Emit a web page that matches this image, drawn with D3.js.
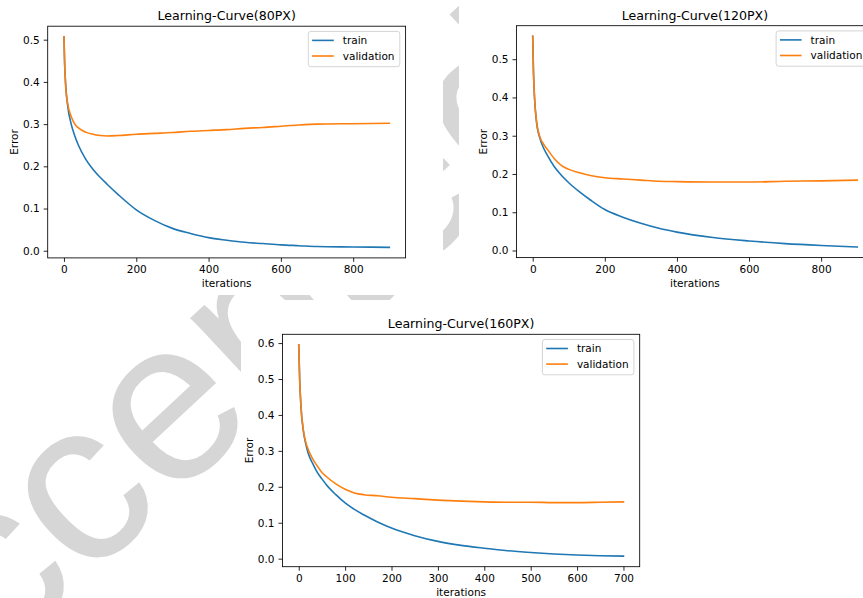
<!DOCTYPE html>
<html>
<head>
<meta charset="utf-8">
<script src="https://cdn.jsdelivr.net/npm/d3@7"></script>
<style>
  html, body { margin: 0; padding: 0; background: #fff; }
  svg { display: block; }
  text { font-family: "DejaVu Sans", sans-serif; }
</style>
</head>
<body>
<div id="chart"></div>
<script>
// ---------------- data ----------------
const seriesNames = ["train", "validation"];
const titles = ["Learning-Curve(80PX)", "Learning-Curve(120PX)", "Learning-Curve(160PX)"];

const iters80 = [0, 2, 5, 10, 20, 30, 40, 60, 80, 100, 120, 150, 200, 250, 300, 350, 400, 450, 500, 550, 600, 650, 700, 800, 900];
const train80 = [0.507, 0.44, 0.39, 0.345, 0.30, 0.272, 0.25, 0.217, 0.193, 0.174, 0.157, 0.133, 0.097, 0.072, 0.053, 0.041, 0.031, 0.025, 0.020, 0.017, 0.014, 0.012, 0.010, 0.009, 0.008];
const val80   = [0.507, 0.44, 0.385, 0.35, 0.318, 0.300, 0.291, 0.281, 0.276, 0.273, 0.272, 0.273, 0.276, 0.278, 0.280, 0.283, 0.285, 0.287, 0.290, 0.292, 0.295, 0.298, 0.300, 0.301, 0.302];

const iters120 = [0, 2, 5, 10, 20, 30, 40, 60, 80, 100, 130, 160, 200, 250, 300, 350, 400, 500, 600, 700, 800, 900];
const train120 = [0.56, 0.47, 0.40, 0.34, 0.293, 0.268, 0.25, 0.219, 0.196, 0.177, 0.153, 0.132, 0.107, 0.087, 0.071, 0.058, 0.048, 0.034, 0.025, 0.018, 0.013, 0.009];
const val120   = [0.56, 0.47, 0.40, 0.342, 0.297, 0.278, 0.265, 0.24, 0.222, 0.212, 0.203, 0.196, 0.19, 0.187, 0.184, 0.181, 0.180, 0.179, 0.179, 0.181, 0.182, 0.184];

const iters160 = [0, 2, 5, 10, 15, 20, 30, 40, 50, 60, 80, 100, 120, 140, 170, 200, 250, 300, 350, 400, 450, 500, 550, 600, 650, 700];
const train160 = [0.595, 0.50, 0.42, 0.355, 0.32, 0.295, 0.265, 0.24, 0.222, 0.205, 0.178, 0.155, 0.137, 0.122, 0.102, 0.085, 0.064, 0.048, 0.037, 0.029, 0.022, 0.017, 0.013, 0.010, 0.008, 0.007];
const val160   = [0.595, 0.50, 0.42, 0.357, 0.325, 0.305, 0.278, 0.258, 0.24, 0.228, 0.208, 0.193, 0.183, 0.178, 0.175, 0.171, 0.167, 0.163, 0.160, 0.158, 0.157, 0.157, 0.156, 0.156, 0.157, 0.158];

const xTicks900 = [0, 200, 400, 600, 800];
const xTicks700 = [0, 100, 200, 300, 400, 500, 600, 700];
const yTicks05 = [0, 0.1, 0.2, 0.3, 0.4, 0.5];
const yTicks06 = [0, 0.1, 0.2, 0.3, 0.4, 0.5, 0.6];
const xLabel = "iterations";
const yLabel = "Error";
const watermark = "Accepted";

// ---------------- layout ----------------
const W = 863, H = 598;
const colors = ["#1f77b4", "#ff7f0e"];

const svg = d3.select("#chart").append("svg")
  .attr("width", W).attr("height", H)
  .attr("viewBox", `0 0 ${W} ${H}`);

// watermark behind the figure images
svg.append("text")
  .attr("transform", "translate(-112,766) rotate(-43)")
  .style("font-family", "'Liberation Sans', Arial, sans-serif")
  .attr("font-size", 230)
  .attr("fill", "#d6d6d6")
  .text(watermark);

// opaque figure backgrounds
const panelBg = [
  {x: 0, y: 0, w: 443, h: 295},
  {x: 459, y: 0, w: 404, h: 295},
  {x: 241, y: 300, w: 412, h: 298}
];
panelBg.forEach(b => svg.append("rect").attr("x", b.x).attr("y", b.y)
  .attr("width", b.w).attr("height", b.h).attr("fill", "#fff"));

const panels = [
  {title: titles[0], left: 47.7, right: 405.6, top: 26.2, bottom: 257.9,
   xDomain: [-45, 945], xTicks: xTicks900, yTicks: yTicks05,
   iters: iters80, series: [train80, val80]},
  {title: titles[1], left: 516.5, right: 873.4, top: 25.7, bottom: 257.6,
   xDomain: [-45, 945], xTicks: xTicks900, yTicks: yTicks05,
   iters: iters120, series: [train120, val120]},
  {title: titles[2], left: 282.5, right: 639.7, top: 334.3, bottom: 566.7,
   xDomain: [-35, 735], xTicks: xTicks700, yTicks: yTicks06,
   iters: iters160, series: [train160, val160]}
];

const FS = 10.5;

panels.forEach(p => {
  const g = svg.append("g");
  const x = d3.scaleLinear().domain(p.xDomain).range([p.left, p.right]);
  const all = p.series.flat();
  const [mn, mx] = d3.extent(all);
  const pad = (mx - mn) * 0.05;
  const y = d3.scaleLinear().domain([mn - pad, mx + pad]).range([p.bottom, p.top]);

  // lines
  const line = d3.line()
    .x((d, i) => x(p.iters[i]))
    .y(d => y(d))
    .curve(d3.curveMonotoneX);
  p.series.forEach((s, k) => {
    g.append("path").datum(s)
      .attr("fill", "none")
      .attr("stroke", colors[k])
      .attr("stroke-width", 1.6)
      .attr("stroke-linejoin", "round")
      .attr("stroke-linecap", "square")
      .attr("d", line);
  });

  // axes
  const xAxis = d3.axisBottom(x).tickValues(p.xTicks).tickSize(4).tickPadding(4).tickFormat(d3.format("d"));
  const yAxis = d3.axisLeft(y).tickValues(p.yTicks).tickSize(4).tickPadding(4).tickFormat(d3.format(".1f"));
  const gx = g.append("g").attr("transform", `translate(0,${p.bottom})`).call(xAxis);
  const gy = g.append("g").attr("transform", `translate(${p.left},0)`).call(yAxis);
  [gx, gy].forEach(a => {
    a.select(".domain").remove();
    a.selectAll(".tick line").attr("stroke", "#000").attr("stroke-width", 0.85);
    a.selectAll(".tick text").attr("fill", "#000")
      .style("font-family", "'DejaVu Sans', sans-serif").style("font-size", FS + "px");
  });

  // frame (spines)
  g.append("rect")
    .attr("x", p.left).attr("y", p.top)
    .attr("width", p.right - p.left).attr("height", p.bottom - p.top)
    .attr("fill", "none").attr("stroke", "#000").attr("stroke-width", 0.85);

  // title
  g.append("text")
    .attr("x", (p.left + p.right) / 2).attr("y", p.top - 6)
    .attr("text-anchor", "middle")
    .style("font-size", "12.6px")
    .text(p.title);

  // axis labels
  g.append("text")
    .attr("x", (p.left + p.right) / 2).attr("y", p.bottom + 29)
    .attr("text-anchor", "middle")
    .style("font-size", FS + "px")
    .text(xLabel);
  g.append("text")
    .attr("transform", `translate(${p.left - 29.5},${(p.top + p.bottom) / 2}) rotate(-90)`)
    .attr("text-anchor", "middle")
    .style("font-size", FS + "px")
    .text(yLabel);

  // legend
  const lw = 91.5, lh = 35.3;
  const lx = p.right - 5.8 - lw, ly = p.top + 5.2;
  const lg = g.append("g");
  lg.append("rect")
    .attr("x", lx).attr("y", ly).attr("width", lw).attr("height", lh)
    .attr("rx", 2.5).attr("ry", 2.5)
    .attr("fill", "#fff").attr("fill-opacity", 0.8)
    .attr("stroke", "#cccccc").attr("stroke-width", 0.85);
  seriesNames.forEach((name, k) => {
    const yy = ly + 9 + k * 15.6;
    lg.append("line")
      .attr("x1", lx + 3.8).attr("x2", lx + 25.5)
      .attr("y1", yy).attr("y2", yy)
      .attr("stroke", colors[k]).attr("stroke-width", 1.6);
    lg.append("text")
      .attr("x", lx + 34.5).attr("y", yy + 3.8)
      .style("font-size", FS + "px")
      .text(name);
  });
});
</script>
</body>
</html>
